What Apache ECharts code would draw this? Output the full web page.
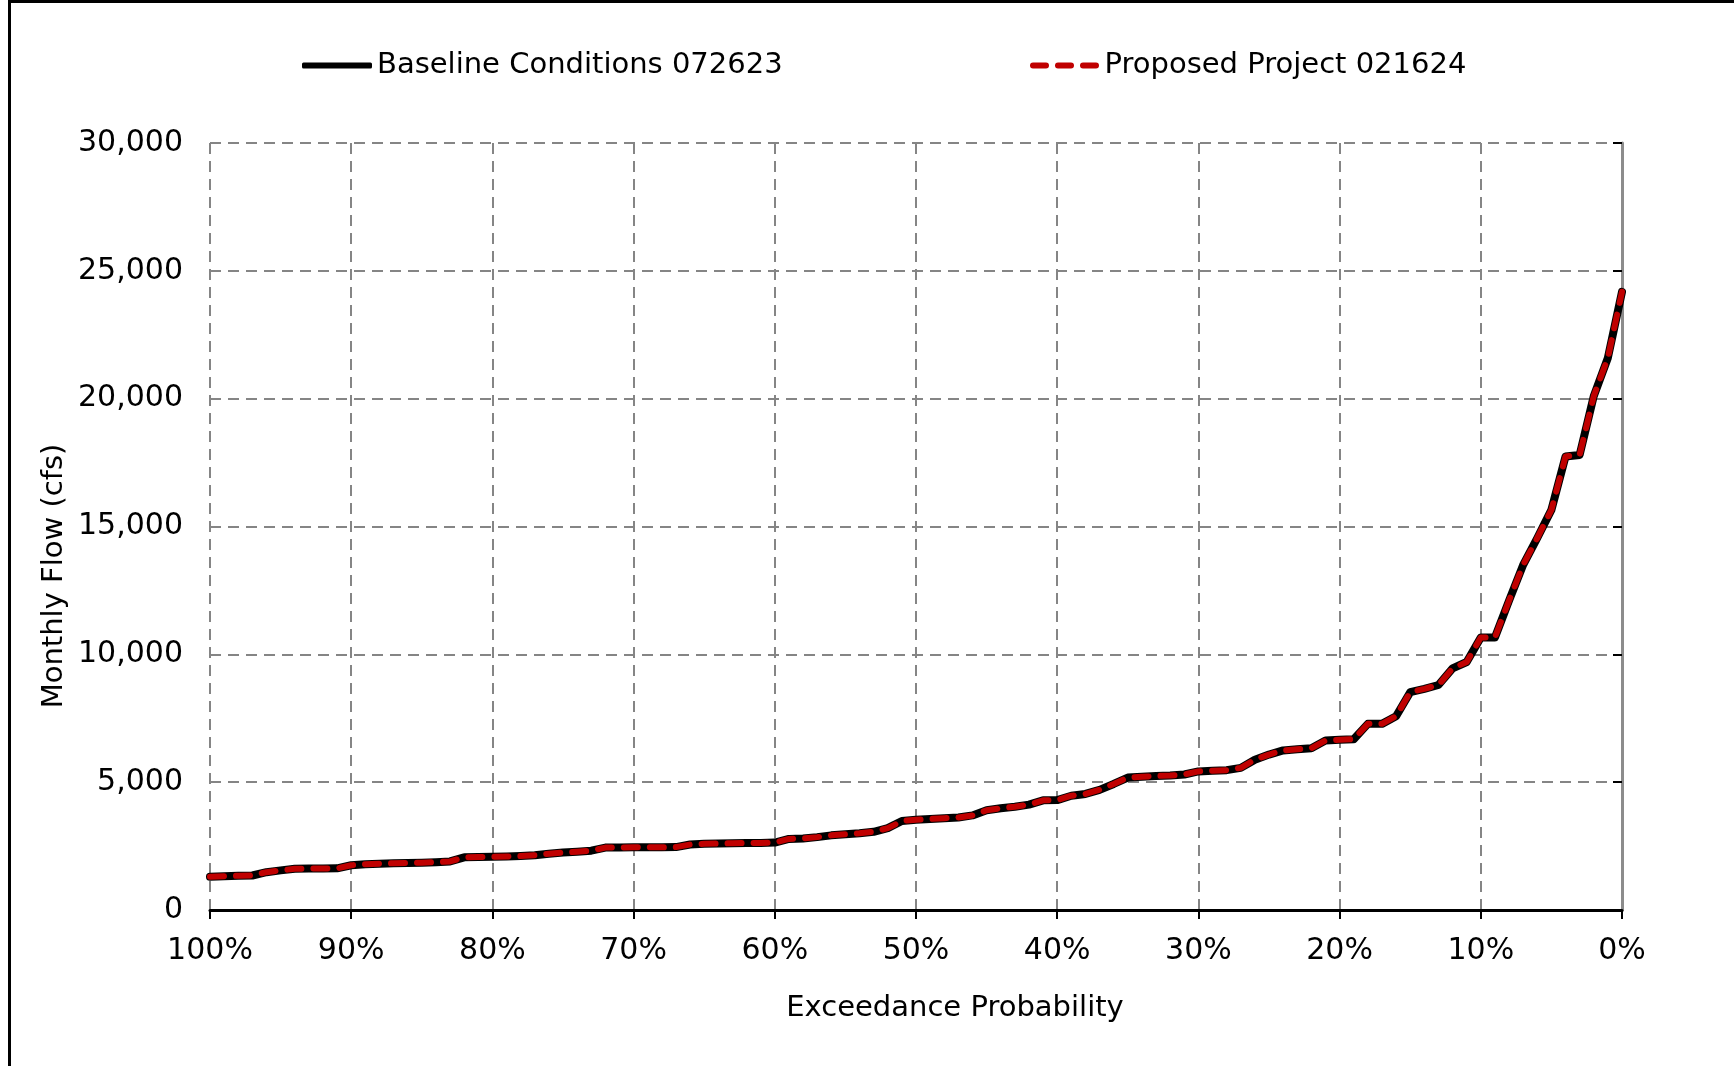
<!DOCTYPE html>
<html>
<head>
<meta charset="utf-8">
<script src="https://cdn.jsdelivr.net/npm/echarts@6/dist/echarts.min.js"></script>
<style>
html,body{margin:0;padding:0;background:#fff;}
#chart{width:1734px;height:1066px;}
</style>
</head>
<body>
<div id="chart"></div>
<script>
const exceedance = [100,99,98,97,96,95,94,93,92,91,90,89,88,87,86,85,84,83,82,81,80,79,78,77,76,75,74,73,72,71,70,69,68,67,66,65,64,63,62,61,60,59,58,57,56,55,54,53,52,51,50,49,48,47,46,45,44,43,42,41,40,39,38,37,36,35,34,33,32,31,30,29,28,27,26,25,24,23,22,21,20,19,18,17,16,15,14,13,12,11,10,9,8,7,6,5,4,3,2,1,0];
const baseline = [1300,1320,1340,1350,1480,1550,1610,1620,1620,1630,1750,1790,1810,1830,1840,1850,1870,1900,2060,2070,2080,2090,2110,2140,2200,2250,2280,2320,2440,2445,2450,2450,2450,2460,2560,2590,2600,2610,2620,2625,2640,2780,2800,2850,2920,2960,3000,3060,3200,3480,3530,3560,3590,3620,3700,3900,3980,4040,4120,4290,4300,4470,4540,4700,4930,5180,5210,5240,5260,5300,5420,5450,5470,5560,5880,6080,6240,6290,6330,6630,6660,6680,7280,7280,7580,8520,8650,8800,9450,9700,10660,10660,12100,13500,14550,15650,17740,17800,20100,21600,24180];
const proposed = [1300,1320,1340,1350,1480,1550,1610,1620,1620,1630,1750,1790,1810,1830,1840,1850,1870,1900,2060,2070,2080,2090,2110,2140,2200,2250,2280,2320,2440,2445,2450,2450,2450,2460,2560,2590,2600,2610,2620,2625,2640,2780,2800,2850,2920,2960,3000,3060,3200,3480,3530,3560,3590,3620,3700,3900,3980,4040,4120,4290,4300,4470,4540,4700,4930,5180,5210,5240,5260,5300,5420,5450,5470,5560,5880,6080,6240,6290,6330,6630,6660,6680,7280,7280,7580,8520,8650,8800,9450,9700,10660,10660,12100,13500,14550,15650,17740,17800,20100,21600,24180];
const seriesNames = ['Baseline Conditions 072623', 'Proposed Project 021624'];
const xTitle = 'Exceedance Probability';
const yTitle = 'Monthly Flow (cfs)';

const FONT = 'DejaVu Sans';
const FS = 29;
const TICK_FS = 30;
const chart = echarts.init(document.getElementById('chart'), null, {renderer: 'canvas'});

const pairs = (vals) => exceedance.map((p, i) => [p, vals[i]]);

chart.setOption({
  backgroundColor: '#ffffff',
  animation: false,
  textStyle: {fontFamily: FONT, color: '#000'},
  grid: {left: 210, top: 143, width: 1412, height: 767, containLabel: false},
  legend: [
    {
      data: [{name: seriesNames[0], icon: 'roundRect'}], left: 297, top: 46, itemWidth: 70, itemHeight: 6,
      itemStyle: {color: '#000'},
      textStyle: {fontFamily: FONT, fontSize: FS, color: '#000'}
    },
    {
      data: [{name: seriesNames[1], icon: 'path://M3,0h13a3,3 0 0 1 0,6h-13a3,3 0 0 1 0,-6z M28,0h13a3,3 0 0 1 0,6h-13a3,3 0 0 1 0,-6z M53,0h13a3,3 0 0 1 0,6h-13a3,3 0 0 1 0,-6z'}],
      left: 1025, top: 46, itemWidth: 70, itemHeight: 6,
      itemStyle: {color: '#C00000'},
      textStyle: {fontFamily: FONT, fontSize: FS, color: '#000'}
    }
  ],
  xAxis: {
    type: 'value', inverse: true, min: 0, max: 100, interval: 10,
    axisLine: {show: true, onZero: false, lineStyle: {color: '#000', width: 3}},
    axisTick: {show: true, inside: false, length: 9, lineStyle: {color: '#000', width: 2}},
    axisLabel: {margin: 26, fontFamily: FONT, fontSize: TICK_FS, color: '#000', formatter: (v) => v + '%'},
    splitLine: {show: true, lineStyle: {color: '#858585', width: 2, type: [11, 7]}}
  },
  yAxis: [
    {
      type: 'value', min: 0, max: 30000, interval: 5000,
      axisLine: {show: true, lineStyle: {color: '#000', width: 2}},
      axisTick: {show: true, inside: false, length: 9, lineStyle: {color: '#000', width: 2}},
      axisLabel: {margin: 27, fontFamily: FONT, fontSize: TICK_FS, color: '#000',
        formatter: (v) => v.toLocaleString('en-US')},
      splitLine: {show: true, lineStyle: {color: '#858585', width: 2, type: [11, 7]}}
    },
    {
      type: 'value', min: 0, max: 30000, interval: 5000, position: 'right',
      axisLine: {show: true, lineStyle: {color: '#8c8c8c', width: 3}},
      axisTick: {show: false}, axisLabel: {show: false}, splitLine: {show: false}
    }
  ],
  series: [
    {
      name: seriesNames[0], type: 'line', data: pairs(baseline), showSymbol: false, symbol: 'none',
      lineStyle: {color: '#000', width: 8, cap: 'round', join: 'round'},
      itemStyle: {color: '#000'}, z: 2
    },
    {
      name: seriesNames[1], type: 'line', data: pairs(proposed), showSymbol: false, symbol: 'none',
      lineStyle: {color: '#C00000', width: 6, type: [14, 12], cap: 'round', join: 'round'},
      itemStyle: {color: '#C00000'}, z: 3
    }
  ],
  graphic: [
    {type: 'rect', shape: {x: 9.5, y: 1.5, width: 1800, height: 1200}, style: {fill: 'none', stroke: '#000', lineWidth: 3}, silent: true},
    {type: 'text', x: 955, y: 1008, style: {text: xTitle, textAlign: 'center', textVerticalAlign: 'middle', font: FS + 'px "' + FONT + '"', fill: '#000'}},
    {type: 'text', x: 54, y: 576, rotation: Math.PI / 2, style: {text: yTitle, textAlign: 'center', textVerticalAlign: 'middle', font: FS + 'px "' + FONT + '"', fill: '#000'}}
  ]
});
</script>
</body>
</html>
